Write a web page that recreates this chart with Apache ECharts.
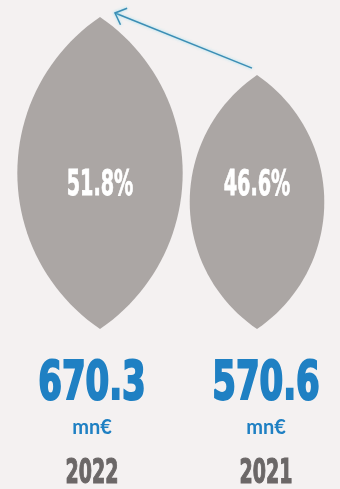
<!DOCTYPE html>
<html>
<head>
<meta charset="utf-8">
<script src="https://cdn.jsdelivr.net/npm/echarts@6/dist/echarts.min.js"></script>
<style>
  html, body { margin: 0; padding: 0; background: #f4f1f1; }
  #chart { width: 340px; height: 489px; }
</style>
</head>
<body>
<div id="chart"></div>
<script>
// Revenue per year (mn€) and the share it represents (%)
const years = ['2022', '2021'];
const revenue = [670.3, 570.6];
const shares = [51.8, 46.6];
const unit = 'mn€';

// Scale floor for the leaf heights
const Y_MIN = 135;

const GREY = '#aba6a4';
const BLUE = '#1f80c3';
const YEAR_GREY = '#6b6767';
const ARROW = '#3c8db4';
const NARROW = '"DejaVu Sans Condensed", "DejaVu Sans", sans-serif';
const LENS_RATIO = 0.53;           // leaf width / height
const LABEL_SHIFT = [-8, 9];       // horizontal nudge of the figures under each leaf

// Points of a pointed leaf (two circular arcs) between top and bottom tips
function lensPoints(cx, top, bottom) {
  const h = bottom - top, half = h / 2, s = h * LENS_RATIO / 2;
  const r = (s * s + half * half) / (2 * s);
  const mid = (top + bottom) / 2;
  const a = Math.asin(half / r);
  const n = 48, pts = [];
  for (let i = 0; i <= n; i++) {
    const t = -a + 2 * a * i / n;
    pts.push([cx + s - r + r * Math.cos(t), mid + r * Math.sin(t)]);
  }
  for (let i = 0; i <= n; i++) {
    const t = a - 2 * a * i / n;
    pts.push([cx - s + r - r * Math.cos(t), mid + r * Math.sin(t)]);
  }
  return pts;
}

// Condensed heavy figure: horizontally squeezed bold text with a same-colour outline
function textEl(x, y, text, font, fill, scaleX, weight) {
  return {
    type: 'text', x: x, y: y, scaleX: scaleX || 1,
    style: {
      x: 0, y: 0, text: text, font: font, fill: fill,
      align: 'center', verticalAlign: 'middle',
      stroke: weight ? fill : null, lineWidth: weight || 0
    }
  };
}

function renderItem(params, api) {
  const i = params.dataIndex;
  const top = api.coord([i, api.value(1)]);
  const base = api.coord([i, Y_MIN]);
  const cx = top[0];
  const children = [];

  children.push({
    type: 'polygon',
    shape: { points: lensPoints(cx, top[1], base[1]) },
    style: { fill: GREY }
  });

  // share inside the leaf
  children.push(textEl(cx, base[1] - 143, api.value(2).toFixed(1) + '%',
    'bold 35px ' + NARROW, '#ffffff', 0.61, 0.8));

  // revenue, unit and year under the leaf
  const lx = cx + LABEL_SHIFT[i];
  children.push(textEl(lx, base[1] + 56, api.value(1).toFixed(1),
    'bold 54px ' + NARROW, BLUE, 0.7, 2.2));
  children.push(textEl(lx, base[1] + 99, unit,
    'bold 20px Lato, "Liberation Sans", sans-serif', BLUE, 1));
  children.push(textEl(lx, base[1] + 145, years[i],
    'bold 34px ' + NARROW, YEAR_GREY, 0.62, 1.2));

  // arrow from the 2021 leaf tip back to the 2022 leaf tip
  if (i === 1) {
    const other = api.coord([0, revenue[0]]);
    const x1 = top[0] - 5, y1 = top[1] - 7;
    const x2 = other[0] + 15, y2 = other[1] - 4;
    const ang = Math.atan2(y1 - y2, x1 - x2);
    const len = 13, spread = 43 * Math.PI / 180;
    const arrowStyle = { stroke: ARROW, fill: null, lineWidth: 1.5, shadowBlur: 3, shadowColor: 'rgba(110,215,240,0.7)' };
    children.push({
      type: 'line',
      shape: { x1: x1, y1: y1, x2: x2, y2: y2 },
      style: arrowStyle
    });
    children.push({
      type: 'polyline',
      shape: { points: [
        [x2 + len * Math.cos(ang - spread), y2 + len * Math.sin(ang - spread)],
        [x2, y2],
        [x2 + len * Math.cos(ang + spread), y2 + len * Math.sin(ang + spread)]
      ] },
      style: arrowStyle
    });
  }
  return { type: 'group', children: children };
}

const chart = echarts.init(document.getElementById('chart'), null, { renderer: 'canvas' });
chart.setOption({
  backgroundColor: '#f4f1f1',
  animation: false,
  grid: { left: 21.5, right: 4.5, top: 17, bottom: 160 },
  xAxis: { type: 'category', data: years, show: false },
  yAxis: { type: 'value', min: Y_MIN, max: revenue[0], show: false },
  series: [{
    type: 'custom',
    renderItem: renderItem,
    data: years.map((y, i) => [i, revenue[i], shares[i]]),
    clip: false
  }]
});
</script>
</body>
</html>
